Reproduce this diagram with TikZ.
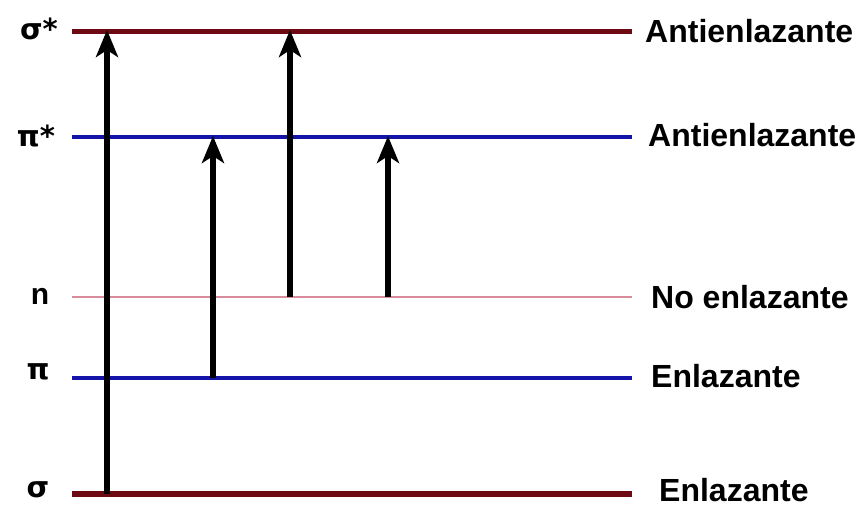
\documentclass[tikz,border=0pt]{standalone}
\usepackage{fontspec}
\setmainfont{Liberation Sans}
\newfontfamily\greekfont{DejaVu Sans}
\usetikzlibrary{arrows.meta}
\definecolor{maroon}{HTML}{6E0A14}
\definecolor{levblue}{HTML}{1414A8}
\definecolor{levpink}{HTML}{D88C9C}
\tikzset{
  level/.style={line width=#1},
  lab/.style={anchor=west, inner sep=0pt, font=\fontsize{32}{32}\selectfont\bfseries},
  glab/.style={anchor=center, inner sep=0pt, font=\fontsize{29}{29}\selectfont\bfseries\greekfont},
  trans/.style={line width=5.5pt, -{Stealth[length=27pt,width=22pt,inset=7pt]}, shorten >=-1pt}
}
\begin{document}
\begin{tikzpicture}[x=1pt,y=-1pt]
\useasboundingbox (0,0) rectangle (860,506);
% levels
\draw[maroon, level=5pt] (72,31) -- (632,31);
\draw[levblue, level=3.5pt] (72,137) -- (632,137);
\draw[levpink, level=2pt] (72,297) -- (632,297);
\draw[levblue, level=3.5pt] (72,378) -- (632,378);
\draw[maroon, level=5.5pt] (72,494) -- (632,494);
% left labels
\node[glab] (lss) at (39,29) {σ*};
\node[glab] (lps) at (36,136) {π*};
\node[glab, font=\fontsize{30}{30}\selectfont\bfseries] (ln) at (40,296) {n};
\node[glab] (lp) at (38,372) {π};
\node[glab] (ls) at (38,490) {σ};
% right labels
\node[lab] (rss) at (645,31) {Antienlazante};
\node[lab] (rps) at (648,135) {Antienlazante};
\node[lab] (rn) at (651,297) {No enlazante};
\node[lab] (rp) at (651,376) {Enlazante};
\node[lab] (rs) at (659,490) {Enlazante};
% transition end points
\coordinate (a1) at (107,494); \coordinate (b1) at (107,31);
\coordinate (a2) at (213,378); \coordinate (b2) at (213,137);
\coordinate (a3) at (290,297); \coordinate (b3) at (290,31);
\coordinate (a4) at (388,297); \coordinate (b4) at (388,137);
\draw[trans] (a1) -- (b1);
\draw[trans] (a2) -- (b2);
\draw[trans] (a3) -- (b3);
\draw[trans] (a4) -- (b4);
\end{tikzpicture}
\end{document}
